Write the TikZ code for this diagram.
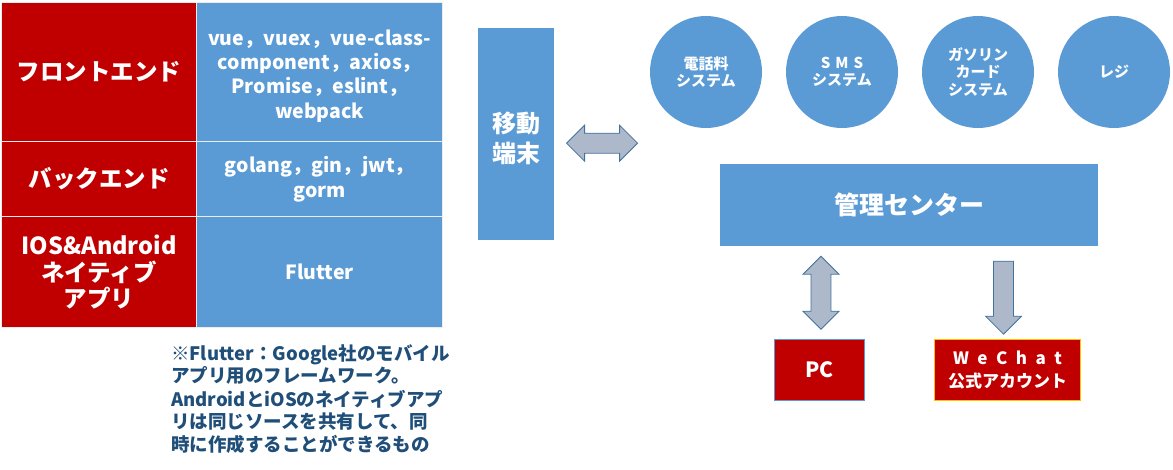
\documentclass[tikz,border=0pt]{standalone}
\usepackage{fontspec}
\setmainfont{Noto Sans CJK JP}
\usetikzlibrary{shapes.arrows,calc}
\definecolor{cred}{HTML}{C00000}
\definecolor{cblue}{HTML}{5B9BD5}
\definecolor{afill}{HTML}{ADB9CA}
\definecolor{aline}{HTML}{41719C}
\definecolor{note}{HTML}{1F4E79}
\definecolor{cgold}{HTML}{FFC000}
\begin{document}
\begin{tikzpicture}[x=1pt,y=-1pt,
  cell/.style={draw=white!85!gray,line width=1.2pt,anchor=north west,inner sep=0pt,align=center,text=white},
  redcell/.style={cell,fill=cred,font=\bfseries\fontsize{23.5}{26.5}\selectfont},
  bluecell/.style={cell,fill=cblue,font=\bfseries\fontsize{19.5}{24.3}\selectfont},
  bluebox/.style={fill=cblue,inner sep=0pt,align=center,text=white},
  circ/.style={bluebox,circle,minimum size=112pt,font=\bfseries\fontsize{15}{17.5}\selectfont},
  redbox/.style={fill=cred,inner sep=0pt,align=center,text=white,line width=1pt},
  notetext/.style={anchor=north west,inner sep=0pt,align=left,text=note,font=\bfseries\fontsize{18.5}{22.5}\selectfont},
  arrowbase/.style={fill=afill,draw=aline,line width=0.8pt,minimum width=36pt},
  harrow/.style={arrowbase,double arrow,inner xsep=0pt,inner ysep=9.5pt,double arrow head extend=8pt},
  varrow/.style={arrowbase,double arrow,shape border rotate=90,inner ysep=0pt,inner xsep=9.5pt,double arrow head extend=8pt},
  darrow/.style={arrowbase,single arrow,shape border rotate=270,inner ysep=0pt,inner xsep=9.5pt,single arrow head extend=8pt}
]
\useasboundingbox (0,0) rectangle (1173,469);
% table
\node[redcell,minimum width=195pt,minimum height=139pt] (r1) at (1,2) {フロントエンド};
\node[redcell,minimum width=195pt,minimum height=75pt] (r2) at (1,141) {バックエンド};
\node[redcell,minimum width=195pt,minimum height=111pt] (r3) at (1,216) {IOS\&Android\\ネイティブ\\アプリ};
\node[bluecell,minimum width=246pt,minimum height=139pt] (b1) at (196,2) {\rule{0pt}{23pt}vue，vuex，vue-class-\\component，axios，\\Promise，eslint，\\webpack};
\node[bluecell,minimum width=246pt,minimum height=75pt] (b2) at (196,141) {golang，gin，jwt，\\gorm};
\node[bluecell,minimum width=246pt,minimum height=111pt] (b3) at (196,216) {Flutter};
% note
\node[notetext] (n1) at (171,344) {※Flutter：Google社のモバイル\\アプリ用のフレームワーク。};
\node[notetext] (n2) at (171,390) {AndroidとiOSのネイティブアプ\\リは同じソースを共有して、同\\時に作成することができるもの};
% mobile
\node[bluebox,minimum width=76pt,minimum height=212pt,anchor=north west] (mob) at (478,28) {};
\node[align=center,text=white,inner sep=0pt,font=\bfseries\fontsize{24}{30}\selectfont] (mobt) at ($(mob.center)+(0,4)$) {移動\\端末};
% circles
\node[circ] (c1) at (706,72) {電話料\\システム};
\node[circ] (c2) at (842,72) {S\,\,M\,\,S\\システム};
\node[circ] (c3) at (978,72) {ガソリン\\カード\\システム};
\node[circ] (c4) at (1114,72) {レジ};
% center
\node[bluebox,minimum width=378pt,minimum height=82pt,anchor=north west,font=\bfseries\fontsize{25}{28}\selectfont] (mc) at (720,164) {管理センター};
% bottom boxes
\node[redbox,draw=cblue,minimum width=90pt,minimum height=61pt,anchor=north west,font=\bfseries\fontsize{21}{24}\selectfont] (pc) at (774,339) {PC};
\node[redbox,draw=cgold,minimum width=146pt,minimum height=61pt,anchor=north west,font=\bfseries\fontsize{17}{23}\selectfont] (wc) at (934,339) {W\,\,\,e\,\,\,C\,\,\,h\,\,\,a\,\,\,t\\公式アカウント};
% arrows
\node[harrow,minimum height=71pt] (a1) at ($(mob.east)!0.5!(mob.east-|c1.west)+(0,9)$) {};
\node[varrow,minimum height=73pt] (a2) at ($(mc.south-|pc.north)!0.5!(pc.north)+(1.5,0)$) {};
\node[darrow,minimum height=73pt] (a3) at ($(mc.south-|wc.north)!0.5!(wc.north)+(-4,0)$) {};
\end{tikzpicture}
\end{document}
